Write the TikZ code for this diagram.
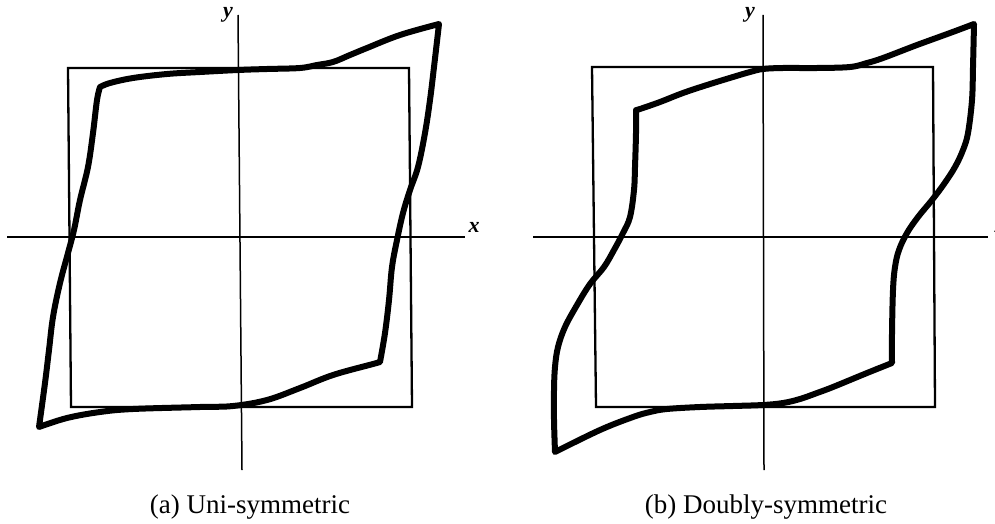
\documentclass[tikz,border=0pt]{standalone}
\usepackage{fontspec}
\setmainfont{Liberation Serif}
\begin{document}
\begin{tikzpicture}[x=1pt,y=-1pt,
  axis/.style={line width=1.5pt},
  box/.style={line width=2.3pt, line join=miter},
  loop/.style={line width=6pt, line join=round},
  lbl/.style={inner sep=0pt, font=\fontsize{22}{24}\selectfont\bfseries\itshape},
  captext/.style={inner sep=0pt, anchor=base, font=\fontsize{27}{30}\selectfont}]
\useasboundingbox (0,0) rectangle (995,524);
% ---------- panel (a)
\draw[axis] (7,237) -- (465,237);
\draw[axis] (238,15) -- (242,470);
\draw[box] (68,68) -- (409,68) -- (412,407) -- (71,407) -- cycle;
\draw[loop] plot[smooth, tension=0.6] coordinates {(439,24) (434,67) (430,100) (425,133) (418,167) (410,190) (403,213) (397,240) (392,267) (389,300) (385,333) (380,362)}
  -- plot[smooth, tension=0.6] coordinates {(380,362) (373,364) (333,375) (300,388) (267,400) (233,406) (200,407) (133,409) (100,412) (67,418) (39,427)}
  -- plot[smooth, tension=0.6] coordinates {(39,427) (45,383) (49,350) (53,317) (60,283) (68,253) (74,230) (80,200) (88,167) (93,133) (97,100) (100,87)}
  -- plot[smooth, tension=0.6] coordinates {(100,87) (110,83) (133,78) (167,74) (200,72) (238,70) (267,69) (300,68) (317,65) (333,62) (350,55) (367,48) (400,35) (439,24)} -- cycle;
\node[lbl] (ya) at (228,15) {y};
\node[lbl] (xa) at (474,227) {x};
\node[captext] (capa) at (250,513) {(a) Uni-symmetric};
% ---------- panel (b)
\draw[axis] (533,237) -- (988,237);
\draw[axis] (763,15) -- (764,470);
\draw[box] (592,67) -- (933,67) -- (935,407) -- (596,407) -- cycle;
\draw[loop] plot[smooth, tension=0.6] coordinates {(974,24) (973,67) (972,100) (968,133) (963,150) (955,167) (944,184) (932,200) (918,217) (907,233) (899,250) (895,267) (893,290) (892,333) (892,363)}
  -- plot[smooth, tension=0.6] coordinates {(892,363) (867,373) (833,387) (817,393) (800,399) (783,403) (763,405) (733,406) (700,407) (667,409) (650,412) (633,417) (600,430) (555,452)}
  -- plot[smooth, tension=0.6] coordinates {(555,452) (554,420) (554,390) (555,367) (558,347) (565,327) (577,305) (590,284) (604,267) (614,250) (623,233) (630,217) (634,190) (635,167) (636,133) (636,110)}
  -- plot[smooth, tension=0.6] coordinates {(636,110) (640,109) (660,102) (683,93) (707,85) (733,77) (750,72) (763,69) (783,68) (817,68) (850,67) (867,63) (883,58) (917,45) (950,33) (974,24)} -- cycle;
\node[lbl] (yb) at (750,15) {y};
\node[lbl] (xb) at (1000,227) {x};
\node[captext] (capb) at (766,513) {(b) Doubly-symmetric};
\end{tikzpicture}
\end{document}
